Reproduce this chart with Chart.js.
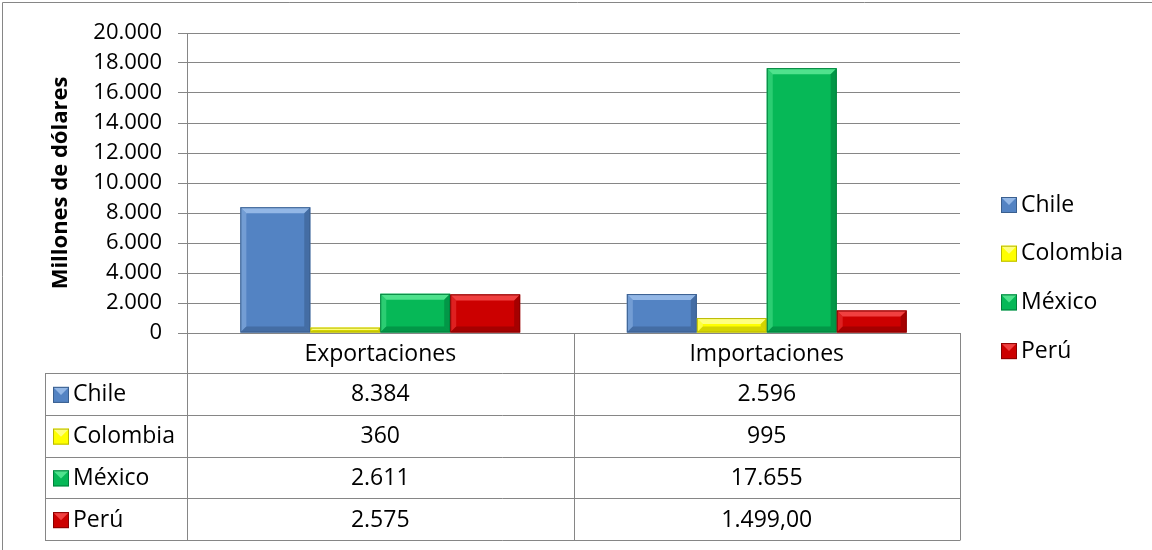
<!DOCTYPE html>
<html>
<head>
<meta charset="utf-8">
<script src="https://cdn.jsdelivr.net/npm/chart.js@4"></script>
<style>
  html, body { margin: 0; padding: 0; background: #fff; }
  #wrap { width: 1152px; height: 550px; position: relative; }
</style>
</head>
<body>
<div id="wrap"><canvas id="grafico"></canvas></div>
<script>
// datos del gráfico
const categorias = ["Exportaciones", "Importaciones"];
const paises = ["Chile", "Colombia", "México", "Perú"];
const chile = [8384, 2596];
const colombia = [360, 995];
const mexico = [2611, 17655];
const peru = [2575, 1499];
const decimales = [[0, 0], [0, 0], [0, 0], [0, 2]]; // en la tabla Perú/Importaciones sale con ",00"

const colores = ["#5383c3", "#ffff00", "#06b857", "#cc0000"];
const claros = ["#93b7e6", "#ffff80", "#4fe28d", "#f04040"];
const oscuros = ["#3a5f8f", "#b8b800", "#00803c", "#8a0000"];

const FUENTE = "'Open Sans', sans-serif";
const GRIS = "#868686";

function fmt(v, dec) {
  let partes = v.toFixed(dec).split(".");
  let ent = partes[0].replace(/\B(?=(\d{3})+(?!\d))/g, ".");
  return partes.length > 1 ? ent + "," + partes[1] : ent;
}

// cuadrito con relieve (leyenda y tabla)
function cuadrito(ctx, x, y, s, i) {
  ctx.fillStyle = colores[i];
  ctx.fillRect(x, y, s, s);
  ctx.fillStyle = claros[i];
  ctx.beginPath();
  ctx.moveTo(x, y); ctx.lineTo(x + s, y); ctx.lineTo(x + s / 2, y + s / 2); ctx.closePath();
  ctx.fill();
  ctx.strokeStyle = oscuros[i];
  ctx.lineWidth = 1;
  ctx.strokeRect(x + 0.5, y + 0.5, s - 1, s - 1);
}

// relieve de las barras
const bisel = {
  id: "bisel",
  afterDatasetsDraw(chart) {
    const ctx = chart.ctx;
    chart.data.datasets.forEach((ds, i) => {
      chart.getDatasetMeta(i).data.forEach(bar => {
        const l = bar.x - bar.width / 2, r = bar.x + bar.width / 2;
        const t = bar.y, b = bar.base;
        const h = b - t;
        if (h <= 0) return;
        const e = Math.min(6, h / 2, bar.width / 2);
        ctx.save();
        ctx.fillStyle = claros[i];
        ctx.beginPath();
        ctx.moveTo(l, t); ctx.lineTo(r, t); ctx.lineTo(r - e, t + e); ctx.lineTo(l + e, t + e); ctx.closePath();
        ctx.fill();
        ctx.globalAlpha = 0.5;
        ctx.beginPath();
        ctx.moveTo(l, t); ctx.lineTo(l + e, t + e); ctx.lineTo(l + e, b - e); ctx.lineTo(l, b); ctx.closePath();
        ctx.fill();
        ctx.globalAlpha = 0.6;
        ctx.fillStyle = oscuros[i];
        ctx.beginPath();
        ctx.moveTo(r, t); ctx.lineTo(r - e, t + e); ctx.lineTo(r - e, b - e); ctx.lineTo(r, b); ctx.closePath();
        ctx.fill();
        ctx.beginPath();
        ctx.moveTo(l, b); ctx.lineTo(l + e, b - e); ctx.lineTo(r - e, b - e); ctx.lineTo(r, b); ctx.closePath();
        ctx.fill();
        ctx.globalAlpha = 1;
        ctx.strokeStyle = oscuros[i];
        ctx.lineWidth = 1;
        ctx.strokeRect(l + 0.5, t + 0.5, bar.width - 1, h - 1);
        ctx.restore();
      });
    });
  }
};

// tabla de datos, leyenda y marco
const tabla = {
  id: "tabla",
  afterDraw(chart) {
    const ctx = chart.ctx;
    const area = chart.chartArea;
    const xs = chart.scales.x;
    const series = chart.data.datasets;
    const izq = 45, top = area.bottom, altoCab = 40, altoFila = 41.75;
    const cortes = [area.left];
    for (let k = 0; k < categorias.length; k++) {
      cortes.push(k < categorias.length - 1 ? (xs.getPixelForValue(k) + xs.getPixelForValue(k + 1)) / 2 : area.right);
    }
    ctx.save();
    ctx.strokeStyle = GRIS;
    ctx.lineWidth = 1;
    const fin = top + altoCab + altoFila * series.length;
    ctx.beginPath();
    // cabecera
    ctx.moveTo(area.left + 0.5, top); ctx.lineTo(area.left + 0.5, top + altoCab);
    ctx.moveTo(area.right + 0.5, top); ctx.lineTo(area.right + 0.5, fin);
    cortes.slice(1, -1).forEach(c => { ctx.moveTo(Math.round(c) + 0.5, top); ctx.lineTo(Math.round(c) + 0.5, fin); });
    // filas
    for (let f = 0; f <= series.length; f++) {
      const y = Math.round(top + altoCab + altoFila * f) + 0.5;
      ctx.moveTo(izq, y); ctx.lineTo(area.right + 0.5, y);
    }
    ctx.moveTo(izq + 0.5, top + altoCab); ctx.lineTo(izq + 0.5, fin);
    ctx.moveTo(area.left + 0.5, top + altoCab); ctx.lineTo(area.left + 0.5, fin);
    ctx.stroke();

    ctx.fillStyle = "#000";
    ctx.font = "23px " + FUENTE;
    ctx.textBaseline = "middle";
    ctx.textAlign = "center";
    categorias.forEach((c, k) => ctx.fillText(c, (cortes[k] + cortes[k + 1]) / 2, top + altoCab / 2 + 1));
    series.forEach((ds, i) => {
      const yc = top + altoCab + altoFila * i + altoFila / 2 + 1;
      ctx.textAlign = "center";
      ds.data.forEach((v, k) => ctx.fillText(fmt(v, decimales[i][k]), (cortes[k] + cortes[k + 1]) / 2, yc));
      cuadrito(ctx, 53, yc - 8, 16, i);
      ctx.fillStyle = "#000";
      ctx.textAlign = "left";
      ctx.fillText(ds.label, 73, yc);
    });

    // leyenda
    series.forEach((ds, i) => {
      const yc = 205 + 48.7 * i;
      cuadrito(ctx, 1001, yc - 8, 16, i);
      ctx.fillStyle = "#000";
      ctx.textAlign = "left";
      ctx.fillText(ds.label, 1021, yc);
    });

    // marco exterior
    ctx.strokeStyle = GRIS;
    ctx.beginPath();
    ctx.moveTo(2.5, 550); ctx.lineTo(2.5, 2.5); ctx.lineTo(1152, 2.5);
    ctx.stroke();
    ctx.restore();
  }
};

const valores = [chile, colombia, mexico, peru];

new Chart(document.getElementById("grafico"), {
  type: "bar",
  data: {
    labels: categorias,
    datasets: paises.map((p, i) => ({
      label: p,
      data: valores[i],
      backgroundColor: colores[i],
      borderColor: oscuros[i],
      borderWidth: 0,
      categoryPercentage: 0.724,
      barPercentage: 1
    }))
  },
  options: {
    responsive: true,
    maintainAspectRatio: false,
    animation: false,
    layout: { padding: { top: 33, right: 192, bottom: 217, left: 0 } },
    plugins: { legend: { display: false }, tooltip: { enabled: false } },
    scales: {
      x: { display: false },
      y: {
        min: 0,
        max: 20000,
        ticks: {
          stepSize: 2000,
          padding: 16,
          color: "#000",
          font: { family: FUENTE, size: 22 },
          callback: v => fmt(v, 0)
        },
        grid: { color: GRIS, lineWidth: 1, tickLength: 9 },
        border: { display: true, color: GRIS },
        title: {
          display: true,
          text: "Millones de dólares",
          color: "#000",
          font: { family: FUENTE, size: 22, weight: "bold" },
          padding: { top: 48, bottom: 0 }
        },
        afterFit: s => { s.width = 187; }
      }
    }
  },
  plugins: [bisel, tabla]
});
</script>
</body>
</html>
